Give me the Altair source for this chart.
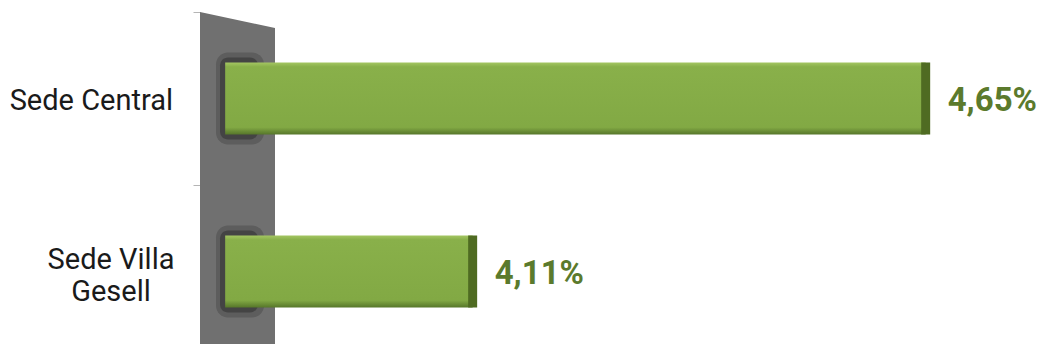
import altair as alt
import pandas as pd

categories = ["Sede Central", "Sede Villa Gesell"]
category_lines = ["Sede Central", "Sede Villa\nGesell"]
values = [4.65, 4.11]
value_labels = ["4,65%", "4,11%"]
BASE = 3.815

df = pd.DataFrame({"sede": categories, "lineas": category_lines, "valor": values,
                   "etiqueta": value_labels, "base": [BASE] * len(values)})

xscale = alt.Scale(domain=[3.785, 4.797], nice=False, zero=False)
yscale = alt.Scale(domain=categories, range=[0, 346], paddingInner=0, paddingOuter=0)

y_enc = alt.Y("sede:N", scale=yscale, sort=categories, title=None,
              axis=alt.Axis(labels=False, tickBand="extent", tickSize=7,
                            tickColor="#b5b5b5", domain=False, grid=False))

wall_path = "M-0.2193,-1 L0.2193,-0.9064 L0.2193,0.9474 L-0.2193,1 Z"
wall = alt.Chart(pd.DataFrame({"k": [0]})).mark_point(
    shape=wall_path, filled=True, color="#707070", opacity=1, strokeOpacity=0, size=342 * 342
).encode(x=alt.value(37.5), y=alt.value(171))

shadow_outer = alt.Chart(df).mark_bar(color="#505050", opacity=0.6, cornerRadius=12, size=92).encode(
    y=y_enc, x=alt.value(16), x2=alt.value(64)
)
shadow_inner = alt.Chart(df).mark_bar(color="#3a3a3a", opacity=0.7, cornerRadius=8, size=82).encode(
    y=y_enc, x=alt.value(20), x2=alt.value(58)
)

grad = alt.Gradient(
    gradient="linear", x1=0, y1=0, x2=0, y2=1,
    stops=[alt.GradientStop(color="#a4c662", offset=0),
           alt.GradientStop(color="#89b04a", offset=0.06),
           alt.GradientStop(color="#82a944", offset=0.9),
           alt.GradientStop(color="#56762a", offset=1)])

bars = alt.Chart(df).mark_bar(color=grad, size=72).encode(
    y=y_enc,
    x=alt.X("base:Q", scale=xscale, axis=None),
    x2="valor:Q",
)

side = alt.Chart(df).mark_tick(color="#4f6b22", thickness=9, size=72, opacity=1).encode(
    y=y_enc, x=alt.X("valor:Q", scale=xscale, axis=None)
)

labels = alt.Chart(df).mark_text(align="left", baseline="middle", dx=22, dy=2, font="Roboto",
                                 fontSize=33, fontWeight="bold", color="#5b7a2c").encode(
    y=y_enc, x=alt.X("valor:Q", scale=xscale, axis=None), text="etiqueta:N"
)

cat_style = dict(font="Roboto", fontSize=29, color="#1a1a1a", baseline="middle",
                 lineBreak="\n", lineHeight=32)
cat_central = alt.Chart(df).transform_filter(alt.datum.sede == categories[0]).mark_text(
    align="right", dy=2, **cat_style
).encode(y=y_enc, x=alt.value(-27), text="lineas:N")
cat_villa = alt.Chart(df).transform_filter(alt.datum.sede == categories[1]).mark_text(
    align="center", dy=-12, **cat_style
).encode(y=y_enc, x=alt.value(-89), text="lineas:N")

chart = alt.layer(wall, shadow_outer, shadow_inner, bars, side, labels, cat_central, cat_villa).properties(
    width=849, height=332,
    background="white",
    autosize=alt.AutoSizeParams(type="none"),
    padding={"left": 192, "top": 4, "right": 0, "bottom": 0},
).configure_view(stroke=None)

chart.save("out.html", embed_options={"renderer": "svg", "actions": False})
